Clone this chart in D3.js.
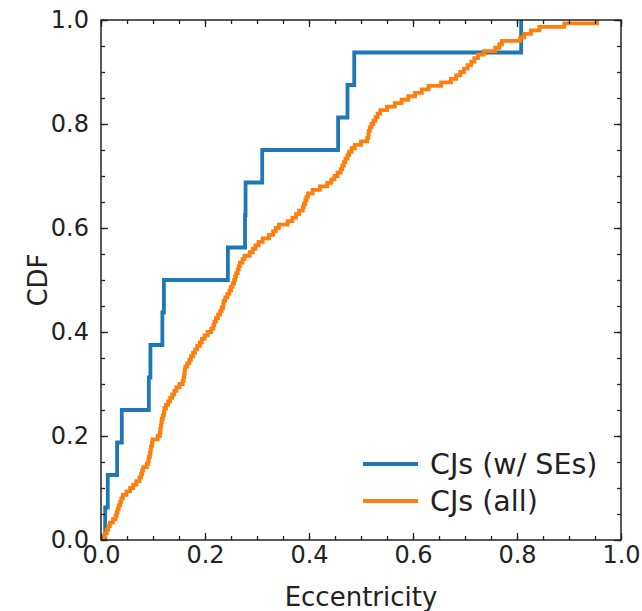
<!DOCTYPE html>
<html>
<head>
<meta charset="utf-8">
<script src="https://cdn.jsdelivr.net/npm/d3@7/dist/d3.min.js"></script>
<style>
  html, body { margin: 0; padding: 0; background: #fff; }
  svg { display: block; font-family: "DejaVu Sans", sans-serif; }
</style>
</head>
<body>
<svg id="chart" width="642" height="611"></svg>
<script>
// Sorted eccentricities of the CJs with super-Earths (16 systems)
const cjsWithSEs = [0.008, 0.013, 0.031, 0.040, 0.092, 0.095, 0.118, 0.121,
  0.244, 0.277, 0.278, 0.310, 0.456, 0.474, 0.487, 0.808];

// Sorted eccentricities of all CJs (150 systems)
const cjsAll = [
  0.004, 0.008, 0.011, 0.014, 0.017, 0.023, 0.028, 0.030, 0.032, 0.034,
  0.037, 0.039, 0.042, 0.049, 0.056, 0.062, 0.068, 0.074, 0.077, 0.079,
  0.081, 0.088, 0.091, 0.092, 0.094, 0.095, 0.096, 0.098, 0.099, 0.109,
  0.113, 0.114, 0.115, 0.116, 0.117, 0.119, 0.121, 0.122, 0.125, 0.129,
  0.133, 0.137, 0.141, 0.145, 0.151, 0.157, 0.159, 0.160, 0.161, 0.162,
  0.166, 0.170, 0.173, 0.177, 0.181, 0.185, 0.190, 0.194, 0.199, 0.205,
  0.212, 0.216, 0.218, 0.221, 0.225, 0.229, 0.232, 0.235, 0.236, 0.239,
  0.243, 0.247, 0.250, 0.253, 0.256, 0.258, 0.260, 0.263, 0.265, 0.267,
  0.272, 0.276, 0.286, 0.292, 0.297, 0.303, 0.311, 0.323, 0.331, 0.336,
  0.342, 0.359, 0.368, 0.375, 0.381, 0.388, 0.390, 0.393, 0.395, 0.398,
  0.407, 0.421, 0.435, 0.443, 0.449, 0.455, 0.461, 0.464, 0.467, 0.470,
  0.474, 0.477, 0.482, 0.488, 0.500, 0.512, 0.514, 0.515, 0.517, 0.520,
  0.524, 0.528, 0.532, 0.537, 0.550, 0.565, 0.578, 0.591, 0.604, 0.617,
  0.630, 0.654, 0.673, 0.683, 0.691, 0.698, 0.705, 0.712, 0.718, 0.725,
  0.736, 0.758, 0.766, 0.771, 0.806, 0.814, 0.827, 0.843, 0.891, 0.954
];

const seriesNames = ["CJs (w/ SEs)", "CJs (all)"];
const seriesColors = ["#1f77b4", "#ff7f0e"];
const majorTicks = [0.0, 0.2, 0.4, 0.6, 0.8, 1.0];
const minorTicks = d3.range(0, 1.0001, 0.05);
const xLabel = "Eccentricity";
const yLabel = "CDF";

const svg = d3.select("#chart");
const pL = 101, pR = 621, pT = 20, pB = 540;

const x = d3.scaleLinear().domain([0, 1]).range([pL, pR]);
const y = d3.scaleLinear().domain([0, 1]).range([pB, pT]);

function cdfPoints(vals) {
  const n = vals.length;
  const pts = [[0, 0]];
  vals.forEach((v, i) => pts.push([v, (i + 1) / n]));
  return pts;
}

svg.append("defs").append("clipPath").attr("id", "clip")
  .append("rect").attr("x", pL).attr("y", pT)
  .attr("width", pR - pL).attr("height", pB - pT);

const line = d3.line()
  .x(d => x(d[0])).y(d => y(d[1]))
  .curve(d3.curveStepAfter);

const lw = 3.8;
const g = svg.append("g").attr("clip-path", "url(#clip)");
[cjsWithSEs, cjsAll].forEach((vals, i) => {
  g.append("path")
    .datum(cdfPoints(vals))
    .attr("d", line)
    .attr("fill", "none")
    .attr("stroke", seriesColors[i])
    .attr("stroke-width", lw)
    .attr("stroke-linejoin", "miter")
    .attr("stroke-linecap", "square");
});

const fmt = d3.format(".1f");
const tickColor = "#222";
const fs = 24;

function styleAxis(sel) {
  sel.select(".domain").remove();
  sel.selectAll("line").attr("stroke", tickColor).attr("stroke-width", 1.3);
  sel.selectAll("text").attr("fill", "#222").attr("font-size", fs + "px")
    .attr("font-family", "DejaVu Sans, sans-serif");
}

// Minor ticks on all four sides
svg.append("g").attr("transform", `translate(0,${pB})`)
  .call(d3.axisBottom(x).tickValues(minorTicks).tickSize(-4).tickFormat(""))
  .call(styleAxis);
svg.append("g").attr("transform", `translate(0,${pT})`)
  .call(d3.axisTop(x).tickValues(minorTicks).tickSize(-4).tickFormat(""))
  .call(styleAxis);
svg.append("g").attr("transform", `translate(${pL},0)`)
  .call(d3.axisLeft(y).tickValues(minorTicks).tickSize(-4).tickFormat(""))
  .call(styleAxis);
svg.append("g").attr("transform", `translate(${pR},0)`)
  .call(d3.axisRight(y).tickValues(minorTicks).tickSize(-4).tickFormat(""))
  .call(styleAxis);

// Major ticks
svg.append("g").attr("transform", `translate(0,${pB})`)
  .call(d3.axisBottom(x).tickValues(majorTicks).tickSize(-7).tickPadding(6).tickFormat(fmt))
  .call(styleAxis);
svg.append("g").attr("transform", `translate(0,${pT})`)
  .call(d3.axisTop(x).tickValues(majorTicks).tickSize(-7).tickFormat(""))
  .call(styleAxis);
svg.append("g").attr("transform", `translate(${pL},0)`)
  .call(d3.axisLeft(y).tickValues(majorTicks).tickSize(-7).tickPadding(12).tickFormat(fmt))
  .call(styleAxis);
svg.append("g").attr("transform", `translate(${pR},0)`)
  .call(d3.axisRight(y).tickValues(majorTicks).tickSize(-7).tickFormat(""))
  .call(styleAxis);

// Frame (spines)
svg.append("rect")
  .attr("x", pL).attr("y", pT)
  .attr("width", pR - pL).attr("height", pB - pT)
  .attr("fill", "none").attr("stroke", tickColor).attr("stroke-width", 1.5);

// Axis labels
svg.append("text")
  .attr("x", (pL + pR) / 2).attr("y", 606)
  .attr("text-anchor", "middle").attr("font-size", "26px").attr("fill", "#222")
  .text(xLabel);
svg.append("text")
  .attr("transform", `translate(47,${(pT + pB) / 2}) rotate(-90)`)
  .attr("text-anchor", "middle").attr("font-size", "26px").attr("fill", "#222")
  .text(yLabel);

// Legend
const legend = svg.append("g");
const legY = [464, 501];
seriesNames.forEach((name, i) => {
  legend.append("line")
    .attr("x1", 363).attr("x2", 418)
    .attr("y1", legY[i]).attr("y2", legY[i])
    .attr("stroke", seriesColors[i]).attr("stroke-width", lw);
  legend.append("text")
    .attr("x", 430).attr("y", legY[i]).attr("dy", "0.35em")
    .attr("font-size", "28.5px").attr("fill", "#222")
    .text(name);
});
</script>
</body>
</html>
